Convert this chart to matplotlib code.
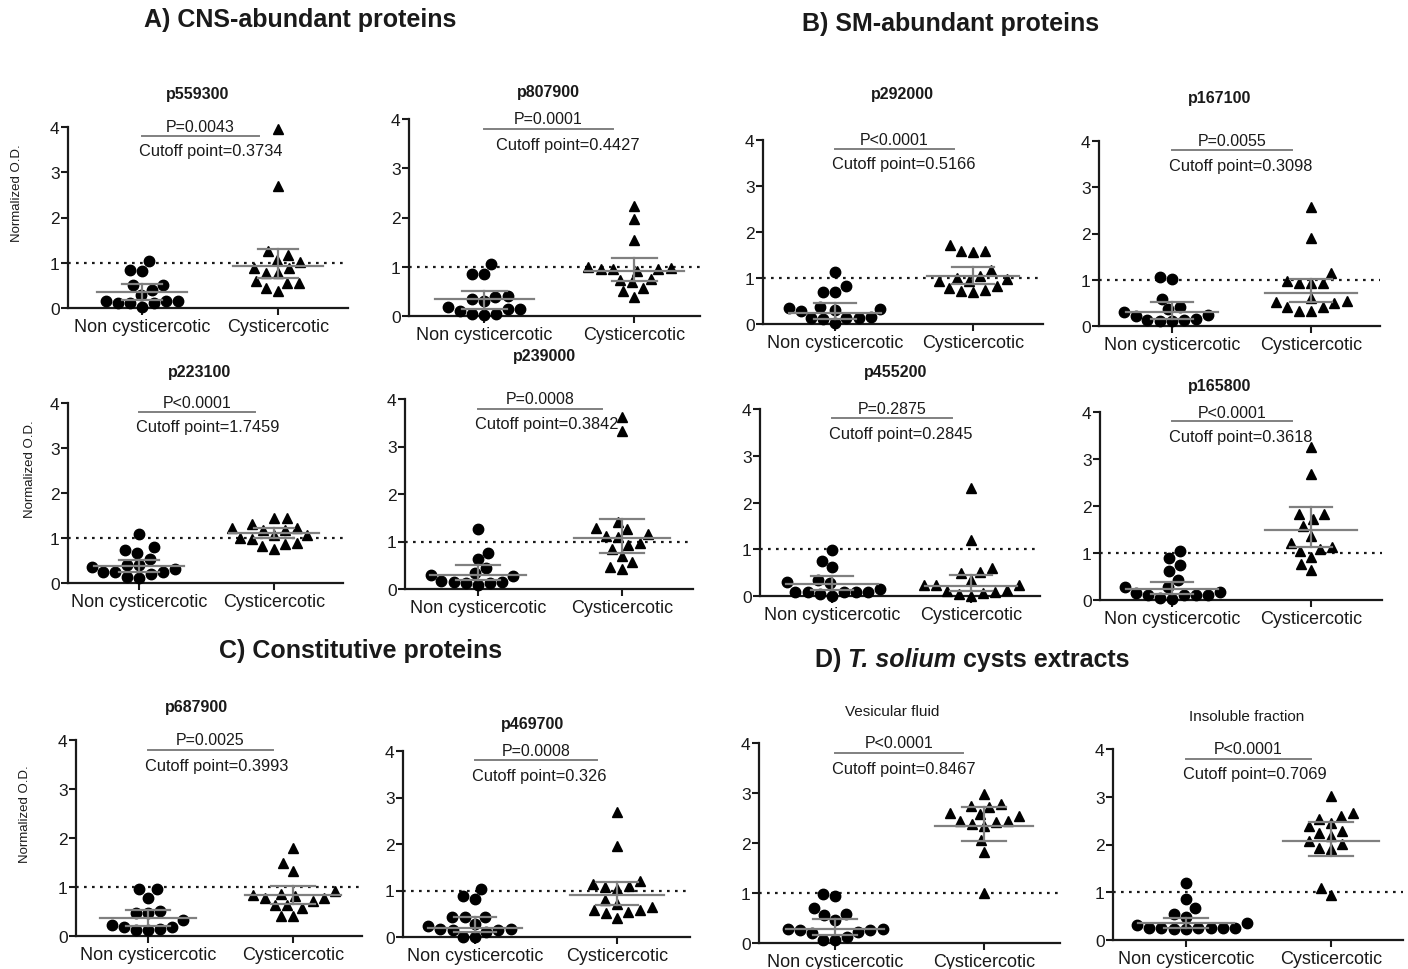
import numpy as np
import matplotlib
matplotlib.use("Agg")
import matplotlib.pyplot as plt

plt.rcParams['font.family'] = ['Liberation Sans', 'DejaVu Sans']

# ---------------- data ----------------
groups = ["Non cysticercotic", "Cysticercotic"]
yticks = [0, 1, 2, 3, 4]

titles = ["p559300", "p807900", "p292000", "p167100",
          "p223100", "p239000", "p455200", "p165800",
          "p687900", "p469700", "Vesicular fluid", "Insoluble fraction"]
p_values = ["P=0.0043", "P=0.0001", "P<0.0001", "P=0.0055",
            "P<0.0001", "P=0.0008", "P=0.2875", "P<0.0001",
            "P=0.0025", "P=0.0008", "P<0.0001", "P<0.0001"]
cutoffs = ["0.3734", "0.4427", "0.5166", "0.3098",
           "1.7459", "0.3842", "0.2845", "0.3618",
           "0.3993", "0.326", "0.8467", "0.7069"]
cutoff_line = 1.0

non_p559300 = [1.03, 0.84, 0.81, 0.50, 0.50, 0.39, 0.29, 0.15, 0.15, 0.10, 0.02, 0.10, 0.10, 0.15]
cys_p559300 = [3.95, 2.69, 1.05, 1.17, 1.25, 1.01, 0.88, 0.88, 0.78, 0.78, 0.59, 0.56, 0.56, 0.37, 0.44]
non_p807900 = [1.06, 0.86, 0.86, 0.39, 0.34, 0.41, 0.30, 0.18, 0.14, 0.05, 0.03, 0.05, 0.10, 0.15]
cys_p807900 = [2.23, 1.97, 1.55, 0.99, 0.95, 0.95, 0.92, 0.95, 0.97, 0.76, 0.74, 0.69, 0.57, 0.50, 0.39]
non_p292000 = [1.12, 0.82, 0.69, 0.69, 0.34, 0.33, 0.36, 0.28, 0.30, 0.14, 0.12, 0.10, 0.12, 0.15, 0.02]
cys_p292000 = [1.72, 1.59, 1.57, 1.58, 1.18, 1.04, 0.99, 0.94, 0.94, 0.97, 0.83, 0.75, 0.69, 0.72, 0.78]
non_p167100 = [1.07, 1.01, 0.59, 0.42, 0.36, 0.30, 0.23, 0.22, 0.16, 0.13, 0.11, 0.11, 0.14]
cys_p167100 = [2.57, 1.90, 1.14, 0.98, 0.93, 0.93, 0.93, 0.61, 0.54, 0.49, 0.51, 0.41, 0.41, 0.33, 0.33]
non_p223100 = [1.10, 0.79, 0.73, 0.67, 0.53, 0.41, 0.40, 0.36, 0.32, 0.24, 0.21, 0.25, 0.25, 0.12, 0.13]
cys_p223100 = [1.45, 1.45, 1.32, 1.23, 1.22, 1.17, 1.18, 1.06, 1.07, 1.00, 0.98, 0.87, 0.90, 0.82, 0.76]
non_p239000 = [1.26, 0.75, 0.63, 0.44, 0.33, 0.30, 0.27, 0.14, 0.12, 0.08, 0.12, 0.15, 0.17]
cys_p239000 = [3.63, 3.33, 1.42, 1.28, 1.26, 1.16, 1.12, 1.09, 0.93, 0.96, 0.84, 0.70, 0.56, 0.46, 0.42]
non_p455200 = [0.98, 0.75, 0.61, 0.34, 0.29, 0.27, 0.16, 0.09, 0.09, 0.09, 0.09, 0.09, 0.05, 0.01]
cys_p455200 = [2.31, 1.20, 0.59, 0.52, 0.49, 0.34, 0.23, 0.23, 0.23, 0.11, 0.07, 0.05, 0.08, 0.12, 0.01]
non_p165800 = [1.04, 0.90, 0.75, 0.61, 0.43, 0.28, 0.27, 0.14, 0.17, 0.11, 0.11, 0.11, 0.11, 0.02, 0.04]
cys_p165800 = [3.25, 2.69, 1.82, 1.84, 1.73, 1.57, 1.37, 1.21, 1.13, 1.09, 1.04, 0.91, 0.77, 0.63]
non_p687900 = [0.95, 0.95, 0.78, 0.52, 0.46, 0.46, 0.33, 0.22, 0.19, 0.15, 0.12, 0.12, 0.18]
cys_p687900 = [1.80, 1.48, 1.33, 0.92, 0.83, 0.82, 0.85, 0.78, 0.78, 0.71, 0.63, 0.63, 0.58, 0.41, 0.41]
non_p469700 = [1.04, 0.89, 0.81, 0.43, 0.43, 0.43, 0.29, 0.23, 0.18, 0.18, 0.11, 0.16, 0.16, 0.01, 0.01]
cys_p469700 = [2.69, 1.95, 1.20, 1.15, 1.09, 1.07, 1.04, 0.80, 0.71, 0.64, 0.59, 0.58, 0.54, 0.52, 0.41]
non_vesicular = [0.98, 0.95, 0.71, 0.58, 0.57, 0.47, 0.28, 0.28, 0.27, 0.27, 0.23, 0.20, 0.13, 0.07, 0.07]
cys_vesicular = [2.99, 2.78, 2.75, 2.73, 2.58, 2.60, 2.55, 2.44, 2.42, 2.45, 2.38, 2.35, 2.07, 1.83, 1.01]
non_insoluble = [1.20, 0.85, 0.66, 0.54, 0.49, 0.35, 0.31, 0.26, 0.26, 0.26, 0.22, 0.23, 0.25, 0.25, 0.25]
cys_insoluble = [3.02, 2.66, 2.60, 2.53, 2.45, 2.39, 2.29, 2.25, 2.17, 2.08, 2.01, 1.92, 1.90, 1.08, 0.94]

# summary bars: [centre, lower, upper]
stat_non = [[0.35, 0.18, 0.52], [0.34, 0.15, 0.51], [0.25, 0.11, 0.45], [0.31, 0.16, 0.51],
            [0.37, 0.24, 0.52], [0.30, 0.18, 0.51], [0.26, 0.12, 0.43], [0.24, 0.12, 0.38],
            [0.37, 0.20, 0.54], [0.19, 0.10, 0.43], [0.29, 0.16, 0.48], [0.35, 0.26, 0.47]]
stat_cys = [[0.92, 0.66, 1.31], [0.91, 0.71, 1.18], [1.05, 0.88, 1.25], [0.72, 0.52, 1.01],
            [1.11, 1.00, 1.23], [1.07, 0.76, 1.48], [0.22, 0.11, 0.45], [1.48, 1.12, 1.98],
            [0.84, 0.65, 1.02], [0.91, 0.68, 1.19], [2.35, 2.04, 2.72], [2.08, 1.75, 2.48]]

non_all = [non_p559300, non_p807900, non_p292000, non_p167100, non_p223100, non_p239000,
           non_p455200, non_p165800, non_p687900, non_p469700, non_vesicular, non_insoluble]
cys_all = [cys_p559300, cys_p807900, cys_p292000, cys_p167100, cys_p223100, cys_p239000,
           cys_p455200, cys_p165800, cys_p687900, cys_p469700, cys_vesicular, cys_insoluble]

# ---------------- layout (pixels) ----------------
W, H = 1408, 970
# y-axis x, right end x, y(4) px, y(0) px, cat1 x, cat2 x
geom = [(68, 348, 128, 309, 142, 278), (409, 700, 120, 317, 484, 634),
        (763, 1043, 141, 325, 835, 973), (1099, 1380, 142, 327, 1172, 1311),
        (68, 343, 404, 584, 139, 274), (405, 693, 400, 590, 478, 622),
        (760, 1040, 410, 597, 832, 971), (1100, 1382, 413, 601, 1172, 1311),
        (76, 362, 741, 937, 148, 293), (403, 690, 752, 938, 475, 617),
        (759, 1060, 744, 944, 835, 984), (1113, 1403, 750, 941, 1186, 1331)]
title_pos = [(198, 95), (548, 92), (902, 95), (1220, 98),
             (200, 373), (545, 357), (896, 373), (1220, 387),
             (197, 708), (533, 725), (892, 712), (1247, 717)]
title_bold = [True] * 10 + [False, False]
cut_x = [0.0, 0.1, 0.0, 0.0, 0.0, 0.0, 0.0, 0.0, 0.0, 0.0, 0.0, 0.0]
ylabel_x = {0: 17, 4: 30, 8: 25}

fig = plt.figure(figsize=(W / 100, H / 100), dpi=100)

GRAY = '#808080'
INK = '#1a1a1a'
D_PIX = 12.3


def swarm(vals, px_x, px_y, d):
    vals = np.asarray(vals, float)
    order = np.argsort(vals, kind='stable')
    placed = []
    offs = np.zeros(len(vals))
    for i in order:
        py = vals[i] * px_y
        cands = [0.0]
        for ox, oy in placed:
            dy = py - oy
            if abs(dy) < d:
                dx = np.sqrt(d * d - dy * dy)
                cands += [ox - dx, ox + dx]
        cands.sort(key=abs)
        chosen = cands[-1]
        for c in cands:
            if all((c - ox) ** 2 + (py - oy) ** 2 >= d * d - 1e-6 for ox, oy in placed):
                chosen = c
                break
        placed.append((chosen, py))
        offs[i] = chosen / px_x
    return offs


for k in range(12):
    xa, xr, y4, y0, c1, c2 = geom[k]
    ax = fig.add_axes([xa / W, 1 - y0 / H, (xr - xa) / W, (y0 - y4) / H])
    sp = c2 - c1
    xmin = -(c1 - xa) / sp
    xmax = 1 + (xr - c2) / sp
    ax.set_xlim(xmin, xmax)
    ax.set_ylim(0, 4)
    px_x = sp
    px_y = (y0 - y4) / 4.0

    ax.axhline(cutoff_line, ls=(0, (1.2, 2.4)), color=INK, lw=1.6, zorder=1)

    for gi, (vals, mk, st) in enumerate([(non_all[k], 'o', stat_non[k]), (cys_all[k], '^', stat_cys[k])]):
        offs = swarm(vals, px_x, px_y, D_PIX)
        ax.plot(gi + offs, vals, ls='none', marker=mk, ms=7.5, color='black',
                mec='black', clip_on=False, zorder=3)
        cen, lo, hi = st
        ax.plot([gi - 0.33, gi + 0.33], [cen, cen], color=GRAY, lw=1.6, zorder=4)
        ax.plot([gi - 0.15, gi + 0.15], [lo, lo], color=GRAY, lw=1.6, zorder=4)
        ax.plot([gi - 0.15, gi + 0.15], [hi, hi], color=GRAY, lw=1.6, zorder=4)
        ax.plot([gi, gi], [lo, hi], color=GRAY, lw=1.6, zorder=4)

    ax.plot([0.0, 0.86], [3.8, 3.8], color=GRAY, lw=1.4, clip_on=False)
    ax.text(0.43, 4.0, p_values[k], ha='center', va='center', fontsize=11.5, color=INK, clip_on=False)
    ax.text(cut_x[k] - 0.02, 3.48, "Cutoff point=" + cutoffs[k], ha='left', va='center',
            fontsize=11.8, color=INK, clip_on=False)

    ax.set_xticks([0, 1])
    ax.set_xticklabels(groups, fontsize=13, color=INK)
    ax.set_yticks(yticks)
    ax.set_yticklabels([str(t) for t in yticks], fontsize=12.5, color=INK)
    ax.tick_params(axis='both', direction='out', length=5, width=1.5, color=INK, pad=2)
    ax.tick_params(axis='y', pad=1)
    for s in ['top', 'right']:
        ax.spines[s].set_visible(False)
    for s in ['left', 'bottom']:
        ax.spines[s].set_linewidth(1.6)
        ax.spines[s].set_color(INK)
    ax.patch.set_alpha(0)

    tx, ty = title_pos[k]
    fig.text(tx / W, 1 - ty / H, titles[k], ha='center', va='center',
             fontsize=11.5 if title_bold[k] else 11, fontweight='bold' if title_bold[k] else 'normal',
             color=INK)
    if k in ylabel_x:
        fig.text(ylabel_x[k] / W, 1 - ((y0 + y4) / 2 - 25) / H, "Normalized O.D.", rotation=90,
                 ha='center', va='center', fontsize=9.5, color=INK)

# section headers
hdr = dict(fontsize=18, fontweight='bold', color=INK)
fig.text(300 / W, 1 - 20 / H, "A) CNS-abundant proteins", ha='center', va='center', **hdr)
fig.text(951 / W, 1 - 24 / H, "B) SM-abundant proteins", ha='center', va='center', **hdr)
fig.text(361 / W, 1 - 651 / H, "C) Constitutive proteins", ha='center', va='center', **hdr)
t1 = fig.text(815 / W, 1 - 660 / H, "D) ", ha='left', va='center', **hdr)
a2 = fig.add_artist(matplotlib.text.Annotation("T. solium", xy=(1, 0), xycoords=t1, ha='left', va='bottom',
                                                fontsize=18, fontweight='bold', fontstyle='italic', color=INK))
a3 = fig.add_artist(matplotlib.text.Annotation(" cysts extracts", xy=(1, 0), xycoords=a2, ha='left', va='bottom',
                                                fontsize=18, fontweight='bold', color=INK))

fig.savefig("out.png", dpi=100, facecolor='white')
